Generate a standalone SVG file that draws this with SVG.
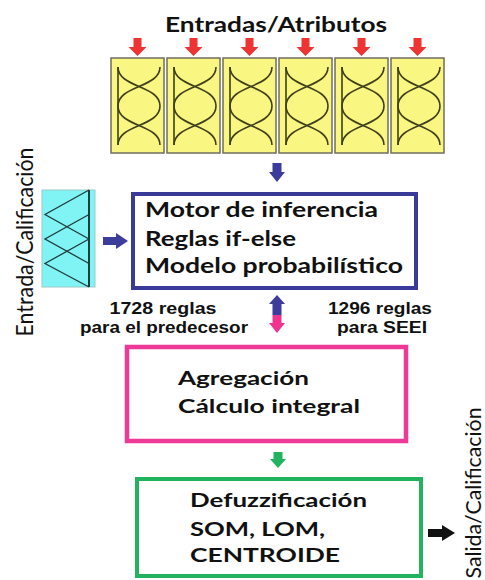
<svg xmlns="http://www.w3.org/2000/svg" width="485" height="580" viewBox="0 0 485 580">
<style>
.cal{font-family:Lato,"Open Sans","Liberation Sans",sans-serif;fill:#111}
.b{font-weight:bold}
.ar{font-family:"Liberation Sans",Arial,sans-serif;font-weight:bold;fill:#111;font-size:17px;text-anchor:middle}
.ybox{fill:#FAF682;stroke:#6E6E60;stroke-width:1.5}
.mf{fill:none;stroke:#3F3F1E;stroke-width:1.6}
.cbox{fill:#80F4F4;stroke:#9ACACA;stroke-width:1}
.tri{fill:none;stroke:#1E3C3C;stroke-width:1.3}
</style>
<defs>
<g id="mfset">
<rect class="ybox" x="0" y="0" width="53" height="95"/>
<line class="mf" x1="7" y1="9" x2="7" y2="87"/>
<path class="mf" d="M49,9 C49,30 7,27 7,48"/>
<path class="mf" d="M7,9 C7,30 49,27 49,48 C49,69 7,66 7,87"/>
<path class="mf" d="M7,48 C7,69 49,66 49,87"/>
</g>
<polygon id="redarrow" points="-4,0 4,0 4,9 9,9 0,18 -9,9 -4,9" fill="#EE3333"/>
</defs>

<g id="title">
<text class="cal b" x="165" y="32" font-size="20" textLength="222" lengthAdjust="spacingAndGlyphs">Entradas/Atributos</text>
</g>

<g id="inputs">
<use href="#mfset" x="111" y="58"/>
<use href="#mfset" x="167" y="58"/>
<use href="#mfset" x="223" y="58"/>
<use href="#mfset" x="279" y="58"/>
<use href="#mfset" x="335" y="58"/>
<use href="#mfset" x="391" y="58"/>
</g>

<g id="input-rating">
<rect class="cbox" x="42" y="190" width="53" height="97"/>
<line x1="89" y1="190" x2="89" y2="287" stroke="#1E3C3C" stroke-width="2"/>
<polyline class="tri" points="89,190 45,214.5 89,239"/>
<polyline class="tri" points="89,214.5 45,239 89,263.5"/>
<polyline class="tri" points="89,239 45,263.5 89,287"/>
<text class="cal" transform="translate(33,242) rotate(-90)" font-size="24" text-anchor="middle" textLength="189" lengthAdjust="spacingAndGlyphs">Entrada/Calificación</text>
</g>

<g id="motor">
<rect x="133" y="194" width="283" height="94" fill="#fff" stroke="#3A3A98" stroke-width="4"/>
<text class="cal b" x="145" y="217" font-size="20" textLength="233" lengthAdjust="spacingAndGlyphs">Motor de inferencia</text>
<text class="cal b" x="145" y="246" font-size="20" textLength="151" lengthAdjust="spacingAndGlyphs">Reglas if-else</text>
<text class="cal b" x="145" y="273" font-size="20" textLength="258" lengthAdjust="spacingAndGlyphs">Modelo probabilístico</text>
</g>

<g id="rule-labels">
<text class="ar" x="163" y="314" textLength="107" lengthAdjust="spacingAndGlyphs">1728 reglas</text>
<text class="ar" x="164" y="333" textLength="168" lengthAdjust="spacingAndGlyphs">para el predecesor</text>
<text class="ar" x="380" y="314" textLength="104" lengthAdjust="spacingAndGlyphs">1296 reglas</text>
<text class="ar" x="382" y="333" textLength="90" lengthAdjust="spacingAndGlyphs">para SEEI</text>
</g>

<g id="aggregation">
<rect x="127" y="347" width="279" height="94" fill="#fff" stroke="#EE3A96" stroke-width="4.5"/>
<text class="cal b" x="178" y="385" font-size="19" textLength="131" lengthAdjust="spacingAndGlyphs">Agregación</text>
<text class="cal b" x="178" y="413" font-size="19" textLength="182" lengthAdjust="spacingAndGlyphs">Cálculo integral</text>
</g>

<g id="defuzz">
<rect x="137" y="479" width="284" height="97" fill="#fff" stroke="#22B35E" stroke-width="4"/>
<text class="cal b" x="190" y="507" font-size="18.5" textLength="177" lengthAdjust="spacingAndGlyphs">Defuzzificación</text>
<text class="cal b" x="190" y="536" font-size="18.5" textLength="135" lengthAdjust="spacingAndGlyphs">SOM, LOM,</text>
<text class="cal b" x="190" y="562" font-size="18.5" textLength="150" lengthAdjust="spacingAndGlyphs">CENTROIDE</text>
</g>

<g id="output">
<text class="cal" transform="translate(481,493) rotate(-90)" font-size="22" text-anchor="middle" textLength="171" lengthAdjust="spacingAndGlyphs">Salida/Calificación</text>
</g>

<g id="connectors">
<use href="#redarrow" x="137.5" y="38"/>
<use href="#redarrow" x="193.5" y="38"/>
<use href="#redarrow" x="249.5" y="38"/>
<use href="#redarrow" x="305.5" y="38"/>
<use href="#redarrow" x="361.5" y="38"/>
<use href="#redarrow" x="417.5" y="38"/>
<polygon fill="#3C3C9C" points="272.5,163 281.5,163 281.5,172 285,172 277,182 269,172 272.5,172"/>
<polygon fill="#3C3C9C" points="103,237 116,237 116,233 128,241 116,249 116,245 103,245"/>
<polygon fill="#3C3C9C" points="277,295 285,304 281.5,304 281.5,315 272.5,315 272.5,304 269,304"/>
<polygon fill="#F0338F" points="272.5,315 281.5,315 281.5,323 285,323 277,333 269,323 272.5,323"/>
<polygon fill="#22B35E" points="273.5,452 282.5,452 282.5,459 286,459 278,468 270,459 273.5,459"/>
<polygon fill="#111" points="428,529 442,529 442,525 455,533 442,541 442,537 428,537"/>
</g>
</svg>
